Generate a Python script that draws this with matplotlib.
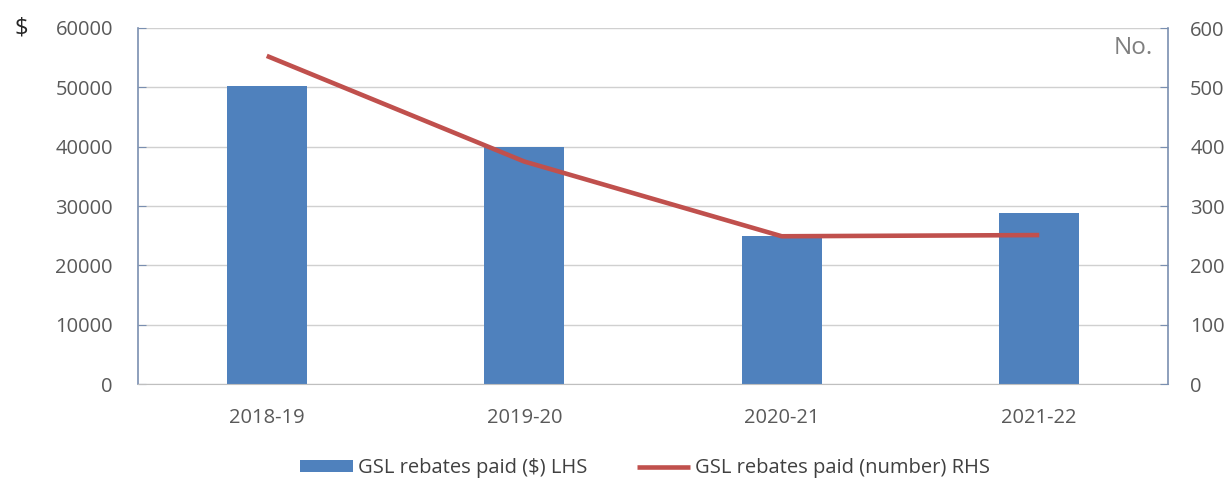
import matplotlib
matplotlib.use("Agg")
import matplotlib.pyplot as plt

categories = ["2018-19", "2019-20", "2020-21", "2021-22"]
rebates_dollars = [50300, 40000, 25000, 28800]
rebates_number = [553, 375, 249, 251]
left_ticks = [0, 10000, 20000, 30000, 40000, 50000, 60000]
right_ticks = [0, 100, 200, 300, 400, 500, 600]

plt.rcParams['font.family'] = ['Open Sans', 'DejaVu Sans']

fig = plt.figure(figsize=(12.27, 4.78), dpi=100)
ax = fig.add_axes([138/1227, 1-384/478, (1168-138)/1227, (384-28)/478])
ax2 = ax.twinx()

bar_color = "#4f81bd"
line_color = "#c0504d"
tick_color = "#595959"
spine_color = "#7a8fb0"

x = list(range(len(categories)))
ax.bar(x, rebates_dollars, width=0.31, color=bar_color, zorder=2,
       label="GSL rebates paid ($) LHS")
ax2.plot(x, rebates_number, color=line_color, lw=3.3, zorder=3,
         label="GSL rebates paid (number) RHS", solid_capstyle='butt')

ax.set_xlim(-0.5, 3.5)
ax.set_ylim(0, 60000)
ax2.set_ylim(0, 600)
ax.set_yticks(left_ticks)
ax2.set_yticks(right_ticks)
ax.set_xticks(x)
ax.set_xticklabels(categories)

ax.grid(axis='y', color="#d0d0d0", lw=1, zorder=0)
ax.set_axisbelow(True)

for a in (ax, ax2):
    a.spines['top'].set_visible(False)
ax.spines['right'].set_visible(False)
ax2.spines['left'].set_visible(False)
ax2.spines['bottom'].set_visible(False)
ax.spines['left'].set_color(spine_color)
ax2.spines['right'].set_color(spine_color)
ax.spines['bottom'].set_color("#bfbfbf")
ax.spines['left'].set_linewidth(1.2)
ax2.spines['right'].set_linewidth(1.2)

ax.tick_params(axis='y', direction='in', length=6, color=spine_color,
               labelcolor=tick_color, labelsize=14.5, pad=18)
ax2.tick_params(axis='y', direction='in', length=6, color=spine_color,
                labelcolor=tick_color, labelsize=14.5, pad=16)
ax.tick_params(axis='x', length=0, labelcolor=tick_color, labelsize=14.5, pad=17)

fig.text(14/1227, 1-28/478, "$", fontsize=17, color="#262626", va='center', ha='left')
ax.text(1 - 15/1030, (384-48.5)/356, "No.", transform=ax.transAxes, fontsize=17.5,
        color="#7f7f7f", ha='right', va='center')

h1, l1 = ax.get_legend_handles_labels()
h2, l2 = ax2.get_legend_handles_labels()
fig.legend(h1 + h2, l1 + l2, loc='center', bbox_to_anchor=(645/1227, 1-468/478),
           ncol=2, frameon=False, fontsize=14.5, labelcolor="#404040",
           handlelength=2.6, handleheight=0.5, handletextpad=0.25,
           columnspacing=2.5, borderpad=0.1)

fig.savefig("out.png", dpi=100)
